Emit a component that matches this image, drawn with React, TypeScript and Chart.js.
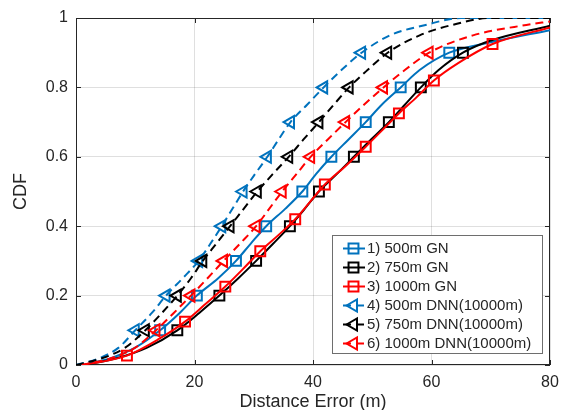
import React, { useEffect, useRef } from 'react';
import { Chart, registerables } from 'chart.js';

Chart.register(...registerables);

// Axis ticks
const xTickValues = [0, 20, 40, 60, 80];
const yTickValues = [0, 0.2, 0.4, 0.6, 0.8, 1];
const xTitle = 'Distance Error (m)';
const yTitle = 'CDF';

// 1) 500m GN
const gn500X = [1, 6, 10, 14.2, 17.5, 20.4, 24.0, 27.0, 29.5, 32.1, 35.3, 38.2, 40.5, 43.1, 46.0, 48.9, 51.6, 54.8, 58.0, 63.0, 70, 80];
const gn500Y = [0, 0.02, 0.05, 0.1, 0.15, 0.2, 0.25, 0.3, 0.35, 0.4, 0.45, 0.5, 0.55, 0.6, 0.65, 0.7, 0.75, 0.8, 0.85, 0.9, 0.93, 0.965];
const gn500Marks = [3, 5, 7, 9, 11, 13, 15, 17, 19];

// 2) 750m GN
const gn750X = [1.5, 7, 12, 17.1, 20.8, 24.2, 27.4, 30.4, 33.3, 36.1, 38.6, 41.0, 44.0, 46.9, 49.8, 52.8, 55.5, 58.2, 61.2, 65.3, 70, 80];
const gn750Y = [0, 0.02, 0.05, 0.1, 0.15, 0.2, 0.25, 0.3, 0.35, 0.4, 0.45, 0.5, 0.55, 0.6, 0.65, 0.7, 0.75, 0.8, 0.85, 0.9, 0.935, 0.978];
const gn750Marks = [3, 5, 7, 9, 11, 13, 15, 17, 19];

// 3) 1000m GN
const gn1000X = [1, 8.6, 14.0, 18.4, 21.8, 25.2, 28.2, 31.1, 34.2, 37.0, 39.5, 42.0, 45.6, 48.9, 51.7, 54.5, 57.5, 60.4, 64.5, 70.3, 80];
const gn1000Y = [0, 0.027, 0.075, 0.125, 0.175, 0.226, 0.277, 0.328, 0.375, 0.42, 0.47, 0.52, 0.575, 0.629, 0.677, 0.725, 0.772, 0.82, 0.87, 0.925, 0.973];
const gn1000Marks = [1, 3, 5, 7, 9, 11, 13, 15, 17, 19];

// 4) 500m DNN(10000m)
const dnn500X = [0, 4, 7.2, 10.0, 12.8, 15.2, 18.0, 20.7, 22.7, 24.6, 26.4, 28.2, 30.2, 32.3, 34.2, 36.2, 39.0, 41.8, 44.8, 48.2, 53.0, 59.0, 65.0, 80];
const dnn500Y = [0, 0.02, 0.05, 0.1, 0.15, 0.2, 0.25, 0.3, 0.35, 0.4, 0.45, 0.5, 0.55, 0.6, 0.65, 0.7, 0.75, 0.8, 0.85, 0.9, 0.95, 0.98, 1, 1];
const dnn500Marks = [3, 5, 7, 9, 11, 13, 15, 17, 19];

// 5) 750m DNN(10000m)
const dnn750X = [0, 4.5, 8.3, 11.7, 14.5, 17.1, 19.4, 21.4, 23.7, 26.0, 28.3, 30.6, 33.2, 35.9, 38.4, 41.0, 43.5, 46.1, 49.2, 52.6, 58.0, 63.5, 70, 80];
const dnn750Y = [0, 0.02, 0.05, 0.1, 0.15, 0.2, 0.25, 0.3, 0.35, 0.4, 0.45, 0.5, 0.55, 0.6, 0.65, 0.7, 0.75, 0.8, 0.85, 0.9, 0.95, 0.98, 1, 1];
const dnn750Marks = [3, 5, 7, 9, 11, 13, 15, 17, 19];

// 6) 1000m DNN(10000m)
const dnn1000X = [1, 6, 10, 13.5, 16.5, 19.4, 22.2, 24.9, 27.7, 30.4, 32.6, 34.8, 37.2, 39.6, 42.5, 45.5, 48.6, 51.9, 55.5, 59.6, 67, 76, 80];
const dnn1000Y = [0, 0.02, 0.05, 0.1, 0.15, 0.2, 0.25, 0.3, 0.35, 0.4, 0.45, 0.5, 0.55, 0.6, 0.65, 0.7, 0.75, 0.8, 0.85, 0.9, 0.95, 0.98, 0.99];
const dnn1000Marks = [3, 5, 7, 9, 11, 13, 15, 17, 19];

const seriesLabels = [
  '1) 500m GN',
  '2) 750m GN',
  '3) 1000m GN',
  '4) 500m DNN(10000m)',
  '5) 750m DNN(10000m)',
  '6) 1000m DNN(10000m)',
];

const BLUE = '#0072BD';
const BLACK = '#000000';
const RED = '#FF0000';
const TEXT = '#262626';
const FONT = "'Liberation Sans', Arial, Helvetica, sans-serif";

type Series = {
  label: string;
  xs: number[];
  ys: number[];
  marks: number[];
  color: string;
  dashed: boolean;
  marker: 'rect' | 'triangle';
};

const series: Series[] = [
  { label: seriesLabels[0], xs: gn500X, ys: gn500Y, marks: gn500Marks, color: BLUE, dashed: false, marker: 'rect' },
  { label: seriesLabels[1], xs: gn750X, ys: gn750Y, marks: gn750Marks, color: BLACK, dashed: false, marker: 'rect' },
  { label: seriesLabels[2], xs: gn1000X, ys: gn1000Y, marks: gn1000Marks, color: RED, dashed: false, marker: 'rect' },
  { label: seriesLabels[3], xs: dnn500X, ys: dnn500Y, marks: dnn500Marks, color: BLUE, dashed: true, marker: 'triangle' },
  { label: seriesLabels[4], xs: dnn750X, ys: dnn750Y, marks: dnn750Marks, color: BLACK, dashed: true, marker: 'triangle' },
  { label: seriesLabels[5], xs: dnn1000X, ys: dnn1000Y, marks: dnn1000Marks, color: RED, dashed: true, marker: 'triangle' },
];

function drawMarker(ctx: CanvasRenderingContext2D, kind: string, x: number, y: number, r: number) {
  ctx.beginPath();
  if (kind === 'rect') {
    const s = r * Math.SQRT1_2;
    ctx.rect(x - s, y - s, 2 * s, 2 * s);
  } else {
    let rad = (270 * Math.PI) / 180;
    ctx.moveTo(x + Math.sin(rad) * r, y - Math.cos(rad) * r);
    rad += (2 * Math.PI) / 3;
    ctx.lineTo(x + Math.sin(rad) * r, y - Math.cos(rad) * r);
    rad += (2 * Math.PI) / 3;
    ctx.lineTo(x + Math.sin(rad) * r, y - Math.cos(rad) * r);
    ctx.closePath();
  }
  ctx.stroke();
}

const framePlugin = {
  id: 'frame',
  beforeDatasetsDraw(chart: any) {
    const { ctx, chartArea: a, scales } = chart;
    ctx.save();
    ctx.strokeStyle = TEXT;
    ctx.lineWidth = 1;
    ctx.setLineDash([]);
    ctx.strokeRect(a.left + 0.5, a.top + 0.5, a.right - a.left - 1, a.bottom - a.top - 1);
    const tl = 5;
    ctx.beginPath();
    xTickValues.forEach((v) => {
      const px = Math.round(scales.x.getPixelForValue(v)) + 0.5;
      ctx.moveTo(px, a.bottom);
      ctx.lineTo(px, a.bottom - tl);
      ctx.moveTo(px, a.top);
      ctx.lineTo(px, a.top + tl);
    });
    yTickValues.forEach((v) => {
      const py = Math.round(scales.y.getPixelForValue(v)) + 0.5;
      ctx.moveTo(a.left, py);
      ctx.lineTo(a.left + tl, py);
      ctx.moveTo(a.right, py);
      ctx.lineTo(a.right - tl, py);
    });
    ctx.stroke();
    // axis titles
    ctx.fillStyle = TEXT;
    ctx.font = `18px ${FONT}`;
    ctx.textAlign = 'center';
    ctx.textBaseline = 'middle';
    ctx.fillText(xTitle, (a.left + a.right) / 2, 402);
    ctx.translate(21, (a.top + a.bottom) / 2);
    ctx.rotate(-Math.PI / 2);
    ctx.fillText(yTitle, 0, 0);
    ctx.restore();
  },
};

const legendPlugin = {
  id: 'customLegend',
  afterDatasetsDraw(chart: any) {
    const { ctx } = chart;
    const bx = 332;
    const by = 235;
    const bw = 210;
    const bh = 118;
    ctx.save();
    ctx.fillStyle = '#ffffff';
    ctx.fillRect(bx, by, bw, bh);
    ctx.strokeStyle = '#6e6e6e';
    ctx.lineWidth = 1;
    ctx.setLineDash([]);
    ctx.strokeRect(bx + 0.5, by + 0.5, bw, bh);
    series.forEach((s, i) => {
      const y = by + 13.5 + i * 19;
      ctx.strokeStyle = s.color;
      ctx.lineWidth = 2;
      ctx.setLineDash(s.dashed ? [8, 5] : []);
      ctx.beginPath();
      ctx.moveTo(343, y);
      ctx.lineTo(365, y);
      ctx.stroke();
      ctx.setLineDash([]);
      drawMarker(ctx, s.marker, 353.5, y, 7);
      ctx.fillStyle = TEXT;
      ctx.font = `15px ${FONT}`;
      ctx.textAlign = 'left';
      ctx.textBaseline = 'middle';
      ctx.fillText(s.label, 367, y + 0.5);
    });
    ctx.restore();
  },
};

export default function App() {
  const ref = useRef<HTMLCanvasElement>(null);

  useEffect(() => {
    if (!ref.current) return;
    const datasets = series.map((s, i) => ({
      label: s.label,
      data: s.xs.map((x, j) => ({ x, y: s.ys[j] })),
      borderColor: s.color,
      backgroundColor: 'rgba(0,0,0,0)',
      borderWidth: 2,
      borderDash: s.dashed ? [8, 5] : [],
      pointStyle: s.marker,
      pointRotation: s.marker === 'triangle' ? 270 : 0,
      pointRadius: (c: any) => (s.marks.includes(c.dataIndex) ? 7 : 0),
      pointHoverRadius: 0,
      pointBorderWidth: 2,
      pointBorderColor: s.color,
      pointBackgroundColor: 'rgba(0,0,0,0)',
      cubicInterpolationMode: 'monotone' as const,
      fill: false,
      order: series.length - i,
    }));

    const chart = new Chart(ref.current, {
      type: 'line',
      data: { datasets },
      options: {
        animation: false,
        responsive: false,
        maintainAspectRatio: false,
        events: [],
        layout: { padding: { left: 0, top: 18, right: 11, bottom: 0 } },
        plugins: {
          legend: { display: false },
          tooltip: { enabled: false },
          title: { display: false },
        },
        scales: {
          x: {
            type: 'linear',
            min: 0,
            max: 80,
            afterFit: (s: any) => {
              s.height = 45;
              s.paddingLeft = 0;
              s.paddingRight = 0;
            },
            afterBuildTicks: (s: any) => {
              s.ticks = xTickValues.map((v) => ({ value: v }));
            },
            ticks: {
              font: { family: FONT, size: 16 },
              color: TEXT,
              padding: 8,
              maxRotation: 0,
              autoSkip: false,
            },
            grid: { color: 'rgba(38,38,38,0.15)', drawTicks: false, lineWidth: 1 },
            border: { display: false },
          },
          y: {
            type: 'linear',
            min: 0,
            max: 1,
            afterFit: (s: any) => {
              s.width = 76;
              s.paddingTop = 0;
              s.paddingBottom = 0;
            },
            afterBuildTicks: (s: any) => {
              s.ticks = yTickValues.map((v) => ({ value: v }));
            },
            ticks: {
              font: { family: FONT, size: 16 },
              color: TEXT,
              padding: 8,
              callback: (v: any) => String(Math.round(Number(v) * 10) / 10),
            },
            grid: { color: 'rgba(38,38,38,0.15)', drawTicks: false, lineWidth: 1 },
            border: { display: false },
          },
        },
      },
      plugins: [framePlugin, legendPlugin],
    } as any);

    return () => chart.destroy();
  }, []);

  return (
    <div style={{ position: 'fixed', left: 0, top: 0, width: 561, height: 410, background: '#ffffff' }}>
      <canvas ref={ref} width={561} height={410} style={{ width: 561, height: 410, display: 'block' }} />
    </div>
  );
}
